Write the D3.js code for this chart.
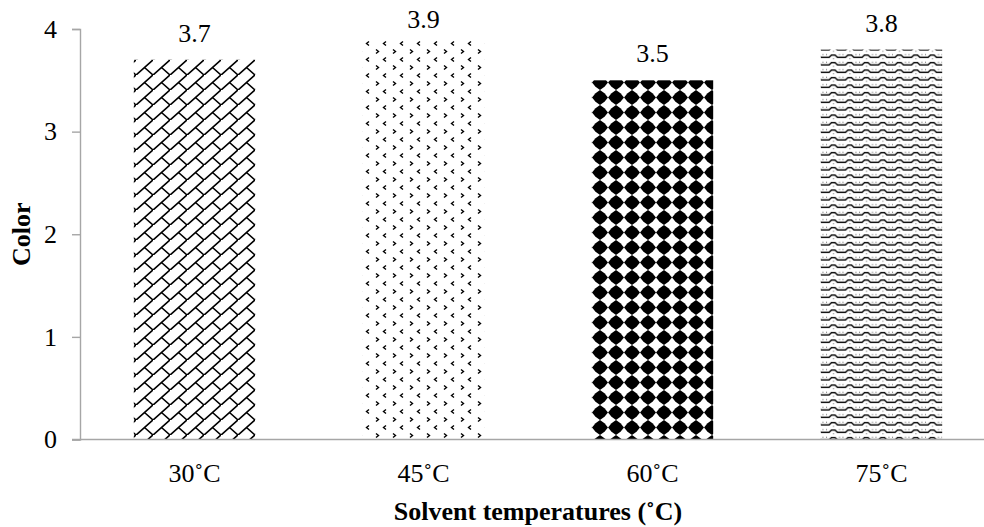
<!DOCTYPE html>
<html>
<head>
<meta charset="utf-8"/>
<title>Color by solvent temperature</title>
<script src="https://d3js.org/d3.v7.min.js"></script>
<style>
  body { margin: 0; background: #fff; }
  svg { display: block; font-family: "Liberation Serif", "Times New Roman", serif; }
  .axis-line { stroke: #a6a6a6; stroke-width: 1.4; fill: none; }
  .tick-label, .bar-label { font-size: 26px; fill: #000; }
  .axis-title { font-size: 26px; font-weight: bold; fill: #000; }
</style>
</head>
<body>
<svg width="984" height="527"></svg>
<script>
// data
const categories = ["30˚C", "45˚C", "60˚C", "75˚C"];
const values = [3.7, 3.9, 3.5, 3.8];
const yTicks = [0, 1, 2, 3, 4];
const patterns = ["brick", "divot", "diamond", "wave"];

const svg = d3.select("svg");
const plot = {left: 80, right: 996, top: 29, bottom: 439.5};

const x = d3.scaleBand()
  .domain(categories)
  .range([plot.left, plot.right])
  .paddingInner(0.47)
  .paddingOuter(0.235);

const y = d3.scaleLinear()
  .domain([0, 4])
  .range([plot.bottom, plot.top]);

// fill patterns, roughly like the office ones
const defs = svg.append("defs");

const brick = defs.append("pattern").attr("id", "brick")
  .attr("patternUnits", "userSpaceOnUse").attr("width", 17).attr("height", 15);
brick.append("path")
  .attr("d", "M-1,16 L18,-1 M8.5,7.5 L17,15 M-8.5,7.5 L0,15 M8.5,-7.5 L17,0")
  .attr("stroke", "#000").attr("stroke-width", 1.6).attr("fill", "none");

const divot = defs.append("pattern").attr("id", "divot")
  .attr("patternUnits", "userSpaceOnUse").attr("width", 17).attr("height", 16);
divot.append("path")
  .attr("d", "M2,1.5 L4.5,3.5 L2,5.5 M12,9.5 L9.5,11.5 L12,13.5")
  .attr("stroke", "#000").attr("stroke-width", 1.4).attr("fill", "none");

const diamond = defs.append("pattern").attr("id", "diamond")
  .attr("patternUnits", "userSpaceOnUse").attr("width", 16).attr("height", 15);
diamond.append("path")
  .attr("d", "M8,0 L12.5,3.2 L16,7.5 L12.5,11.8 L8,15 L3.5,11.8 L0,7.5 L3.5,3.2 Z")
  .attr("fill", "#000");

const wave = defs.append("pattern").attr("id", "wave")
  .attr("patternUnits", "userSpaceOnUse").attr("width", 16.5).attr("height", 7.5);
wave.append("path")
  .attr("d", "M-1,5 H4 L6.5,2.5 H10 L12.5,5 H17.5")
  .attr("stroke", "#000").attr("stroke-width", 1.4).attr("fill", "none");
wave.append("path")
  .attr("d", "M1,2.2 h1 M14,2.2 h1 M8,6.2 h1")
  .attr("stroke", "#777").attr("stroke-width", 1).attr("fill", "none");

// bars
svg.selectAll("rect.bar")
  .data(values)
  .join("rect")
  .attr("class", "bar")
  .attr("x", (d, i) => x(categories[i]))
  .attr("y", d => y(d))
  .attr("width", x.bandwidth())
  .attr("height", d => y(0) - y(d))
  .attr("fill", (d, i) => `url(#${patterns[i]})`);

// value labels (Excel pushes the tallest one down to stay inside)
svg.selectAll("text.bar-label")
  .data(values)
  .join("text")
  .attr("class", "bar-label")
  .attr("x", (d, i) => x(categories[i]) + x.bandwidth() / 2)
  .attr("y", d => Math.max(y(d) - 18, 28))
  .attr("text-anchor", "middle")
  .text(d => d.toFixed(1));

// y axis
const yAxis = svg.append("g")
  .attr("transform", `translate(${plot.left},0)`)
  .call(d3.axisLeft(y).tickValues(yTicks).tickSize(8).tickPadding(15).tickFormat(d3.format("d")));
yAxis.select(".domain").attr("class", "domain axis-line");
yAxis.selectAll(".tick line").attr("class", "axis-line");
yAxis.selectAll(".tick text").attr("class", "tick-label").attr("font-family", null).attr("font-size", null);
yAxis.attr("font-family", null).attr("font-size", null);

// x baseline + labels
svg.append("line").attr("class", "axis-line")
  .attr("x1", plot.left - 8).attr("x2", 984)
  .attr("y1", y(0)).attr("y2", y(0));

svg.selectAll("text.x-label")
  .data(categories)
  .join("text")
  .attr("class", "tick-label x-label")
  .attr("x", d => x(d) + x.bandwidth() / 2)
  .attr("y", 482)
  .attr("text-anchor", "middle")
  .text(d => d);

svg.append("text").attr("class", "axis-title")
  .attr("x", (plot.left + plot.right) / 2)
  .attr("y", 520)
  .attr("text-anchor", "middle")
  .text("Solvent temperatures (˚C)");

svg.append("text").attr("class", "axis-title")
  .attr("transform", `translate(30,${(plot.top + plot.bottom) / 2}) rotate(-90)`)
  .attr("text-anchor", "middle")
  .text("Color");
</script>
</body>
</html>
